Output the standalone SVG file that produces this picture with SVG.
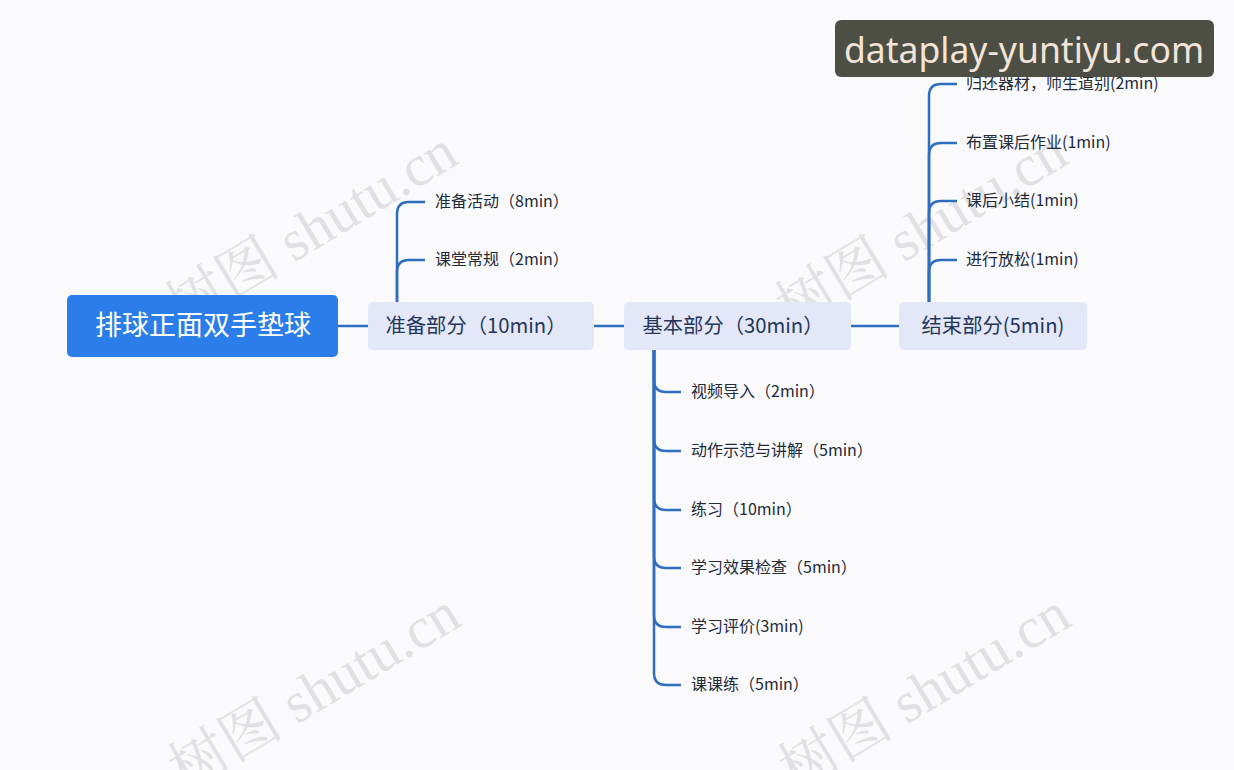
<svg xmlns="http://www.w3.org/2000/svg" width="1234" height="770" viewBox="0 0 1234 770">
<style>
.bg{fill:#fafafd}
.root{fill:#2b7de9}
.rootT{font-family:"Noto Sans CJK SC","Noto Sans",sans-serif;font-size:27px;fill:#ffffff}
.main{fill:#e3e7f8}
.mainT{font-family:"Noto Sans CJK SC","Noto Sans",sans-serif;font-size:20.3px;fill:#24375a}
.leafT{font-family:"Noto Sans CJK SC","Noto Sans",sans-serif;font-size:16px;fill:#222b3a}
.ln{fill:none;stroke:#2f6ebd;stroke-width:2.5}
.wm{font-family:"Liberation Serif","Noto Serif CJK SC","Noto Sans CJK SC",serif;font-size:58px;fill:#a8a8a8;opacity:0.3}
</style>
<rect class="bg" x="0" y="0" width="1234" height="770"/>
<g id="watermarks">
<text class="wm" transform="translate(182,330) rotate(-31)">树图 shutu.cn</text>
<text class="wm" transform="translate(792,330) rotate(-31)">树图 shutu.cn</text>
<text class="wm" transform="translate(185,792) rotate(-31)">树图 shutu.cn</text>
<text class="wm" transform="translate(795,792) rotate(-31)">树图 shutu.cn</text>
</g>
<g id="connectors">
<path class="ln" d="M338,326 H368"/>
<path class="ln" d="M594,326 H624"/>
<path class="ln" d="M851,326 H899"/>
<path class="ln" d="M397,302 V214 Q397,202 409,202 H425"/>
<path class="ln" d="M397,302 V272 Q397,260 409,260 H425"/>
<path class="ln" d="M654,350 V380 Q654,392 666,392 H681"/>
<path class="ln" d="M654,350 V439 Q654,451 666,451 H681"/>
<path class="ln" d="M654,350 V498 Q654,510 666,510 H681"/>
<path class="ln" d="M654,350 V556 Q654,568 666,568 H681"/>
<path class="ln" d="M654,350 V615 Q654,627 666,627 H681"/>
<path class="ln" d="M654,350 V673 Q654,685 666,685 H681"/>
<path class="ln" d="M929,302 V96 Q929,84 941,84 H957"/>
<path class="ln" d="M929,302 V155 Q929,143 941,143 H957"/>
<path class="ln" d="M929,302 V213 Q929,201 941,201 H957"/>
<path class="ln" d="M929,302 V272 Q929,260 941,260 H957"/>
</g>
<g id="root">
<rect class="root" x="67" y="295" width="271" height="62" rx="5"/>
<text class="rootT" x="203" y="335" text-anchor="middle">排球正面双手垫球</text>
</g>
<g id="prep">
<rect class="main" x="368" y="302" width="226" height="48" rx="5"/>
<text class="mainT" x="476" y="333" text-anchor="middle">准备部分（10min）</text>
</g>
<g id="basic">
<rect class="main" x="624" y="302" width="227" height="48" rx="5"/>
<text class="mainT" x="733" y="333" text-anchor="middle">基本部分（30min）</text>
</g>
<g id="end">
<rect class="main" x="899" y="302" width="188" height="48" rx="5"/>
<text class="mainT" x="993" y="333" text-anchor="middle">结束部分(5min)</text>
</g>
<g id="prep-children">
<text class="leafT" x="435" y="207">准备活动（8min）</text>
<text class="leafT" x="435" y="265">课堂常规（2min）</text>
</g>
<g id="basic-children">
<text class="leafT" x="691" y="397">视频导入（2min）</text>
<text class="leafT" x="691" y="456">动作示范与讲解（5min）</text>
<text class="leafT" x="691" y="515">练习（10min）</text>
<text class="leafT" x="691" y="573">学习效果检查（5min）</text>
<text class="leafT" x="691" y="632">学习评价(3min)</text>
<text class="leafT" x="691" y="690">课课练（5min）</text>
</g>
<g id="end-children">
<text class="leafT" x="966" y="89">归还器材，师生道别(2min)</text>
<text class="leafT" x="966" y="148">布置课后作业(1min)</text>
<text class="leafT" x="966" y="206">课后小结(1min)</text>
<text class="leafT" x="966" y="265">进行放松(1min)</text>
</g>
<g id="badge">
<rect x="835" y="20" width="379" height="57" rx="6" fill="#4d4f44"/>
<text x="1024" y="63" text-anchor="middle" font-family="'Noto Sans','Open Sans',sans-serif" font-size="35.5" fill="#f3e4da">dataplay-yuntiyu.com</text>
</g>
</svg>
